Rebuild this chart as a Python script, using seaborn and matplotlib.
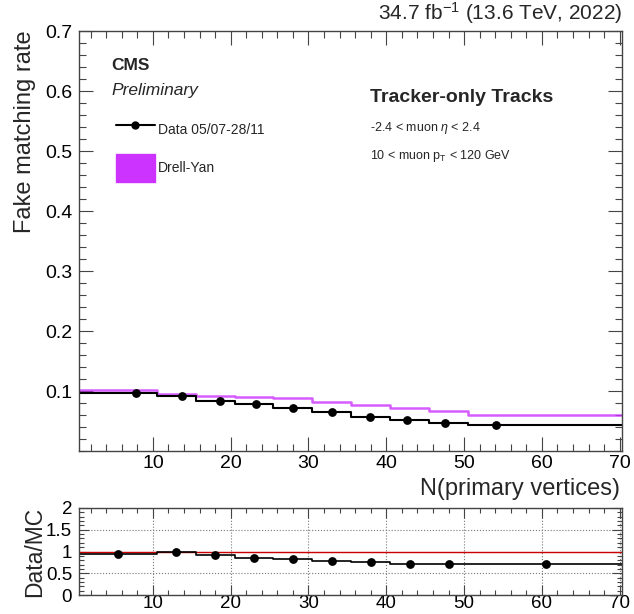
import numpy as np
import pandas as pd
import matplotlib
matplotlib.use("Agg")
import matplotlib.pyplot as plt
import seaborn as sns
from matplotlib.lines import Line2D
from matplotlib.patches import Patch
from matplotlib.ticker import MultipleLocator, FixedLocator

# ---------------- data ----------------
bin_edges = [0.5, 10.5, 15.5, 20.5, 25.5, 30.5, 35.5, 40.5, 45.5, 50.5, 70.5]
data_rate = [0.096, 0.092, 0.084, 0.078, 0.0715, 0.0645, 0.0575, 0.0525, 0.047, 0.0433]
data_mean_x = [7.8, 13.8, 18.6, 23.3, 28.0, 33.0, 37.9, 42.7, 47.6, 54.1]
mc_rate = [0.1015, 0.0945, 0.0922, 0.0905, 0.0878, 0.0822, 0.0767, 0.0711, 0.0661, 0.0606]
ratio = [0.94, 0.98, 0.92, 0.86, 0.82, 0.79, 0.75, 0.72, 0.72, 0.71]

main_yticks = [0.1, 0.2, 0.3, 0.4, 0.5, 0.6, 0.7]
ratio_yticks = [0, 0.5, 1, 1.5, 2]
xticks = [10, 20, 30, 40, 50, 60, 70]

# ---------------- style ----------------
sns.set_theme(style="ticks")
plt.rcParams['font.family'] = ['Liberation Sans', 'DejaVu Sans']
plt.rcParams['mathtext.fontset'] = 'custom'
plt.rcParams['mathtext.rm'] = 'Liberation Sans'
plt.rcParams['mathtext.it'] = 'Liberation Sans:italic'

W, H = 634, 614
fig = plt.figure(figsize=(W / 100, H / 100), dpi=100)

def fx(px):
    return px / W

def fy(py):
    return 1 - py / H

ax = fig.add_axes([fx(79), fy(451), fx(622) - fx(79), fy(31) - fy(451)])
axr = fig.add_axes([fx(79), fy(595), fx(622) - fx(79), fy(508) - fy(595)])

purple = '#cc33ff'
spine_col = '#444444'

# step tables
step_df = pd.DataFrame({
    'x': bin_edges,
    'data': data_rate + [data_rate[-1]],
    'mc': mc_rate + [mc_rate[-1]],
    'ratio': ratio + [ratio[-1]],
})
centers = [(a + b) / 2 for a, b in zip(bin_edges[:-1], bin_edges[1:])]
pts_df = pd.DataFrame({'x': data_mean_x, 'y': data_rate})
rpts_df = pd.DataFrame({'x': centers, 'y': ratio})

# main panel
sns.lineplot(data=step_df, x='x', y='mc', ax=ax, color=purple, lw=1.8,
             drawstyle='steps-post', alpha=0.8)
sns.lineplot(data=step_df, x='x', y='data', ax=ax, color='black', lw=1.5,
             drawstyle='steps-post')
sns.scatterplot(data=pts_df, x='x', y='y', ax=ax, color='black', s=40,
                edgecolor='black', linewidth=0, zorder=5)

ax.set_xlim(0.5, 70.3)
ax.set_ylim(0, 0.7)
ax.yaxis.set_major_locator(FixedLocator(main_yticks))
ax.yaxis.set_minor_locator(MultipleLocator(0.02))
ax.xaxis.set_major_locator(FixedLocator(xticks))
ax.xaxis.set_minor_locator(MultipleLocator(2))
ax.set_xlabel('')
ax.set_ylabel('')
ax.tick_params(which='both', direction='in', top=True, right=True, labelsize=14,
               colors=spine_col, labelcolor='black')
ax.tick_params(which='major', length=10, width=0.8)
ax.tick_params(which='minor', length=5, width=0.8)
ax.tick_params(axis='y', which='major', pad=5)
ax.tick_params(axis='x', which='major', pad=3)
ax.set_yticklabels(['0.1', '0.2', '0.3', '0.4', '0.5', '0.6', '0.7'])
for s in ax.spines.values():
    s.set_color(spine_col)
    s.set_linewidth(1.0)

# legend
handles = [Line2D([0], [0], color='black', lw=1.5, marker='o', markersize=5),
           Patch(facecolor=purple, edgecolor=purple)]
leg = ax.legend(handles, ['Data 05/07-28/11', 'Drell-Yan'], loc='upper left',
                bbox_to_anchor=((116 - 79) / 543, (451 - 116) / 420),
                frameon=False, fontsize=10, handlelength=2.8, handleheight=2.7,
                handletextpad=0.25, labelspacing=0.75, borderpad=0, borderaxespad=0)

# ratio panel
axr.axhline(1, color='#cc0000', lw=1.0, zorder=1)
sns.lineplot(data=step_df, x='x', y='ratio', ax=axr, color='black', lw=1.2,
             drawstyle='steps-post')
sns.scatterplot(data=rpts_df, x='x', y='y', ax=axr, color='black', s=40,
                linewidth=0, zorder=5)
axr.set_xlim(0.5, 70.3)
axr.set_ylim(0, 2)
axr.yaxis.set_major_locator(FixedLocator(ratio_yticks))
axr.yaxis.set_minor_locator(MultipleLocator(0.1))
axr.xaxis.set_major_locator(FixedLocator(xticks))
axr.xaxis.set_minor_locator(MultipleLocator(2))
axr.set_yticklabels(['0', '0.5', '1', '1.5', '2'])
axr.set_xlabel('')
axr.set_ylabel('')
axr.grid(True, which='major', ls=':', color='#777777', lw=0.8)
axr.tick_params(which='both', direction='in', top=True, right=True, labelsize=13.5,
                colors=spine_col, labelcolor='black')
axr.tick_params(which='major', length=7, width=0.8)
axr.tick_params(which='minor', length=3.5, width=0.8)
axr.tick_params(axis='y', which='major', pad=5)
axr.tick_params(axis='x', which='major', pad=0)
for s in axr.spines.values():
    s.set_color(spine_col)
    s.set_linewidth(1.0)

# texts
fig.text(fx(622), fy(13), r'34.7 fb$^{-1}$ (13.6 TeV, 2022)', ha='right', va='center', fontsize=15)
fig.text(fx(111), fy(65), 'CMS', ha='left', va='center', fontsize=12.5, fontweight='bold')
fig.text(fx(111), fy(90), 'Preliminary', ha='left', va='center', fontsize=12.5, fontstyle='italic')
fig.text(fx(370), fy(98), 'Tracker-only Tracks', ha='left', va='center', fontsize=14, fontweight='bold')
fig.text(fx(370), fy(128), r'-2.4 < muon $\eta$ < 2.4', ha='left', va='center', fontsize=9)
fig.text(fx(370), fy(156), r'10 < muon p$_{\mathrm{T}}$ < 120 GeV', ha='left', va='center', fontsize=9)

fig.text(fx(25), fy(30), 'Fake matching rate', rotation=90, ha='center', va='top', fontsize=17)
fig.text(fx(620), fy(489), 'N(primary vertices)', ha='right', va='center', fontsize=17)
fig.text(fx(35), fy(507), 'Data/MC', rotation=90, ha='center', va='top', fontsize=16.5)

fig.savefig('out.png', dpi=100)
